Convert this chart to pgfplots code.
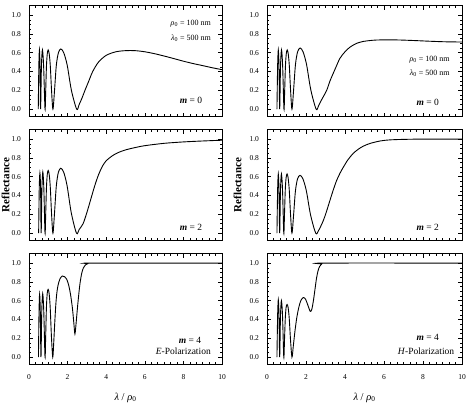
\documentclass[border=0pt]{standalone}
\usepackage{fontspec}
\setmainfont{Liberation Serif}
\usepackage{pgfplots}
\pgfplotsset{compat=1.18}
\pgfplotsset{
  panel/.style={
    scale only axis, height=111pt,
    xmin=0, xmax=10, ymin=-0.08, ymax=1.1,
    xtick={0,2,4,6,8,10}, ytick={0,0.2,0.4,0.6,0.8,1.0},
    minor x tick num=5, minor y tick num=3,
    tick align=inside, major tick length=4pt, minor tick length=2.2pt,
    axis line style={line width=0.9pt, black},
    every tick/.style={black, line width=0.6pt},
    tick label style={font=\fontsize{7.5}{8}\selectfont},
    /pgf/number format/assume math mode=true,
    yticklabel style={/pgf/number format/.cd, fixed, fixed zerofill, precision=1, /tikz/.cd, xshift=-4.5pt},
    xticklabel style={yshift=-6.5pt},
    clip=false,
  },
  leftp/.style={panel, width=193pt},
  rightp/.style={panel, width=195pt},
  curve/.style={black, line width=0.9pt, smooth, no markers},
}
\newcommand{\rhoz}{{\itshape ρ}\textsubscript{0}}
\newcommand{\lamz}{{\itshape λ}\textsubscript{0}}
\newcommand{\mm}{\textbf{\textit{m}}}
\begin{document}
\begin{tikzpicture}
% ---------- top left, m=0, E
\begin{axis}[leftp, at={(29pt,286.3pt)}, anchor=south west, xticklabels={}]
\addplot[curve] coordinates {
(0.48,0) (0.51,0.46) (0.54,0.63) (0.57,0.46) (0.60,0)
(0.645,0.46) (0.696,0.63) (0.757,0.46) (0.83,0)
(0.866,0.2) (0.905,0.46) (0.948,0.59) (0.994,0.63) (1.046,0.59) (1.104,0.46) (1.168,0.2) (1.24,0)
(1.323,0.2) (1.416,0.467) (1.524,0.60) (1.65,0.64) (1.80,0.60) (1.98,0.467) (2.198,0.2) (2.47,0)
(2.6,0.05) (2.75,0.12) (2.9,0.2) (3.1,0.3) (3.3,0.4) (3.6,0.5) (4.0,0.572) (4.5,0.61) (5.0,0.622)
(5.5,0.622) (6.0,0.61) (6.5,0.59) (7.0,0.565) (7.5,0.538) (8.0,0.51) (8.5,0.485) (9.0,0.463) (9.5,0.44) (10,0.42)
};
\node[anchor=east, font=\fontsize{8}{9}\selectfont] at (axis cs:9.6,0.907) {\rhoz{} = 100 nm};
\node[anchor=east, font=\fontsize{8}{9}\selectfont] at (axis cs:9.6,0.755) {\lamz{} = 500 nm};
\node[anchor=east, font=\fontsize{9.5}{10}\selectfont] at (axis cs:9.15,0.096) {\mm{} = 0};
\end{axis}
% ---------- top right, m=0, H
\begin{axis}[rightp, at={(267pt,286.3pt)}, anchor=south west, xticklabels={}]
\addplot[curve] coordinates {
(0.51,0) (0.545,0.46) (0.58,0.63) (0.615,0.46) (0.65,0)
(0.694,0.46) (0.744,0.63) (0.802,0.46) (0.87,0)
(0.907,0.2) (0.946,0.46) (0.989,0.59) (1.036,0.63) (1.088,0.59) (1.145,0.46) (1.209,0.2) (1.28,0)
(1.364,0.205) (1.46,0.475) (1.57,0.61) (1.698,0.65) (1.848,0.61) (2.028,0.475) (2.247,0.205) (2.52,0)
(2.65,0.04) (2.8,0.1) (3.06,0.2) (3.23,0.3) (3.5,0.43) (3.74,0.54) (4.0,0.61) (4.26,0.66) (4.6,0.70)
(4.94,0.72) (5.4,0.732) (5.8,0.736) (6.65,0.736) (7.5,0.73) (8.36,0.722) (9.2,0.716) (10,0.714)
};
\node[anchor=east, font=\fontsize{8}{9}\selectfont] at (axis cs:9.55,0.53) {\rhoz{} = 100 nm};
\node[anchor=east, font=\fontsize{8}{9}\selectfont] at (axis cs:9.55,0.38) {\lamz{} = 500 nm};
\node[anchor=east, font=\fontsize{9.5}{10}\selectfont] at (axis cs:9.0,0.067) {\mm{} = 0};
\end{axis}
% ---------- middle left, m=2, E
\begin{axis}[leftp, at={(29pt,162.3pt)}, anchor=south west, xticklabels={}]
\addplot[curve] coordinates {
(0.50,0) (0.53,0.47) (0.565,0.64) (0.60,0.47) (0.63,0)
(0.67,0.475) (0.716,0.65) (0.769,0.475) (0.83,0)
(0.866,0.21) (0.905,0.486) (0.948,0.626) (0.994,0.666) (1.046,0.626) (1.104,0.486) (1.168,0.21) (1.24,0)
(1.323,0.217) (1.416,0.504) (1.524,0.649) (1.649,0.69) (1.797,0.649) (1.974,0.504) (2.19,0.217) (2.46,0)
(2.6,0.04) (2.8,0.1) (3.0,0.22) (3.2,0.36) (3.4,0.5) (3.6,0.62) (3.8,0.71) (4.0,0.77) (4.3,0.82)
(4.6,0.855) (5.0,0.885) (5.5,0.91) (6,0.93) (7,0.955) (8,0.97) (9,0.98) (10,0.988)
};
\node[anchor=east, font=\fontsize{9.5}{10}\selectfont] at (axis cs:9.15,0.06) {\mm{} = 2};
\node[rotate=90, anchor=center, font=\bfseries\fontsize{11}{12}\selectfont] at ([xshift=-23.5pt]rel axis cs:0,0.5) {Reflectance};
\end{axis}
% ---------- middle right, m=2, H
\begin{axis}[rightp, at={(267pt,162.3pt)}, anchor=south west, xticklabels={}]
\addplot[curve] coordinates {
(0.51,0) (0.545,0.46) (0.58,0.63) (0.615,0.46) (0.65,0)
(0.692,0.46) (0.740,0.63) (0.796,0.46) (0.86,0)
(0.897,0.2) (0.937,0.46) (0.980,0.59) (1.029,0.63) (1.082,0.59) (1.141,0.46) (1.207,0.2) (1.28,0)
(1.364,0.194) (1.458,0.449) (1.567,0.578) (1.693,0.615) (1.841,0.578) (2.019,0.449) (2.234,0.194) (2.50,0)
(2.65,0.03) (2.89,0.135) (3.05,0.23) (3.23,0.35) (3.4,0.46) (3.57,0.56) (3.75,0.64) (3.91,0.70)
(4.15,0.78) (4.43,0.85) (4.7,0.895) (4.94,0.925) (5.3,0.955) (5.8,0.98) (6.2,0.99) (6.65,0.995)
(7.5,0.999) (8.5,1.0) (10,1.0)
};
\node[anchor=east, font=\fontsize{9.5}{10}\selectfont] at (axis cs:9.0,0.06) {\mm{} = 2};
\node[rotate=90, anchor=center, font=\bfseries\fontsize{11}{12}\selectfont] at ([xshift=-29.5pt]rel axis cs:0,0.5) {Reflectance};
\end{axis}
% ---------- bottom left, m=4, E
\begin{axis}[leftp, at={(29pt,38.3pt)}, anchor=south west,
  xlabel={\textit{λ} / \textit{ρ}\textsubscript{0}},
  xlabel style={font=\fontsize{10.5}{11}\selectfont, yshift=-6pt}]
\addplot[curve] coordinates {
(0.49,0) (0.52,0.49) (0.55,0.67) (0.585,0.49) (0.62,0)
(0.662,0.49) (0.71,0.676) (0.765,0.49) (0.83,0)
(0.865,0.23) (0.903,0.53) (0.945,0.68) (0.991,0.72) (1.042,0.68) (1.098,0.53) (1.160,0.23) (1.23,0)
(1.28,0.15) (1.33,0.35) (1.38,0.53) (1.43,0.66) (1.5,0.76) (1.6,0.83) (1.72,0.863) (1.85,0.855)
(1.95,0.83) (2.05,0.77) (2.15,0.67) (2.25,0.52) (2.32,0.37) (2.38,0.247) (2.44,0.36) (2.5,0.5)
(2.56,0.63) (2.64,0.78) (2.73,0.89) (2.82,0.95) (2.92,0.98) (3.05,0.995) (3.3,1.0) (10,1.0)
};
\node[anchor=east, font=\fontsize{9.5}{10}\selectfont] at (axis cs:9.1,0.176) {\mm{} = 4};
\node[anchor=east, font=\fontsize{9.5}{10}\selectfont] at (axis cs:9.6,0.06) {\textit{E}-Polarization};
\end{axis}
% ---------- bottom right, m=4, H
\begin{axis}[rightp, at={(267pt,38.3pt)}, anchor=south west,
  xlabel={\textit{λ} / \textit{ρ}\textsubscript{0}},
  xlabel style={font=\fontsize{10.5}{11}\selectfont, yshift=-6pt}]
\addplot[curve] coordinates {
(0.51,0) (0.545,0.445) (0.58,0.61) (0.615,0.445) (0.65,0)
(0.692,0.44) (0.740,0.60) (0.796,0.44) (0.86,0)
(0.897,0.18) (0.937,0.41) (0.980,0.53) (1.029,0.56) (1.082,0.53) (1.141,0.41) (1.207,0.18) (1.28,0)
(1.35,0.12) (1.43,0.27) (1.52,0.41) (1.62,0.52) (1.73,0.6) (1.86,0.634) (1.98,0.615) (2.1,0.55)
(2.22,0.487) (2.3,0.51) (2.38,0.6) (2.46,0.72) (2.54,0.84) (2.62,0.92) (2.7,0.965) (2.8,0.99)
(2.95,1.0) (10,1.0)
};
\node[anchor=east, font=\fontsize{9.5}{10}\selectfont] at (axis cs:9.0,0.21) {\mm{} = 4};
\node[anchor=east, font=\fontsize{9.5}{10}\selectfont] at (axis cs:9.78,0.063) {\textit{H}-Polarization};
\end{axis}
\pgfresetboundingbox
\useasboundingbox (0pt,0pt) rectangle (466pt,403pt);
\end{tikzpicture}
\end{document}
